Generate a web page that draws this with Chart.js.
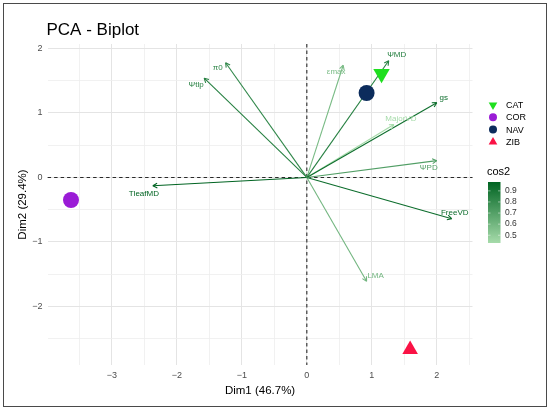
<!DOCTYPE html>
<html>
<head>
<meta charset="utf-8">
<script src="https://cdn.jsdelivr.net/npm/chart.js@4"></script>
<style>
  html, body { margin: 0; padding: 0; background: #fff; }
  #wrap { position: relative; width: 550px; height: 409px; }
  #frame { position: absolute; left: 3px; top: 3px; width: 544px; height: 404px;
           border: 1.5px solid #4a4a4a; box-sizing: border-box; pointer-events: none; }
</style>
</head>
<body>
<div id="wrap">
  <canvas id="biplot" width="550" height="409"></canvas>
  <div id="frame"></div>
</div>
<script>
// variables (arrows)
var varNames = ['ΨMD', 'εmax', 'π0', 'Ψtlp', 'gs', 'MajorVD', 'ΨPD', 'TleafMD', 'FreeVD', 'LMA'];
var varDim1  = [1.26, 0.56, -1.25, -1.58, 2.00, 1.34, 2.00, -2.37, 2.23, 0.92];
var varDim2  = [1.81, 1.74, 1.78, 1.54, 1.16, 0.82, 0.26, -0.13, -0.64, -1.61];
var varCos2  = [0.85, 0.58, 0.82, 0.85, 0.93, 0.43, 0.71, 0.98, 0.94, 0.60];

// individuals (group centres)
var groups  = ['CAT', 'COR', 'NAV', 'ZIB'];
var indDim1 = [1.15, -3.63, 0.92, 1.59];
var indDim2 = [1.61, -0.35, 1.31, -2.67];

var cos2Ticks = [0.9, 0.8, 0.7, 0.6, 0.5];

// styling
var groupColors = ['#1fdf1f', '#9a1bd6', '#0c2c5c', '#fa1245'];
var groupShapes = ['triangle', 'circle', 'circle', 'triangle'];
var groupRot    = [180, 0, 0, 0];
var groupSize   = [9.5, 8, 8, 9];
var labelDx = [8, -7, -8, -8, 7, 7, -8, -9, 3, 9];
var labelDy = [-6, 7, 5, 7, -5, -6, 7, 7.5, -6, -5];

var FONT = '"Liberation Sans", Arial, Helvetica, sans-serif';
var cosMin = 0.43, cosMax = 0.98;
var lowCol = [166, 219, 170], highCol = [0, 100, 34];

function cosColor(v) {
    var t = Math.max(0, Math.min(1, (v - cosMin) / (cosMax - cosMin)));
    var c = lowCol.map(function (l, i) { return Math.round(l + (highCol[i] - l) * t); });
    return 'rgb(' + c.join(',') + ')';
}

function fmtTick(v) {
    if (Math.abs(v - Math.round(v)) > 1e-6) return '';
    v = Math.round(v);
    return v < 0 ? '\u2212' + Math.abs(v) : String(v);
}

var datasets = [];
groups.forEach(function (g, i) {
    datasets.push({
        label: g,
        data: [{ x: indDim1[i], y: indDim2[i] }],
        pointStyle: groupShapes[i],
        rotation: groupRot[i],
        pointRadius: groupSize[i],
        backgroundColor: groupColors[i],
        borderColor: groupColors[i],
        borderWidth: 0,
        order: 0
    });
});
varNames.forEach(function (n, i) {
    datasets.push({
        label: n,
        type: 'line',
        data: [{ x: 0, y: 0 }, { x: varDim1[i], y: varDim2[i] }],
        borderColor: cosColor(varCos2[i]),
        borderWidth: 1.1,
        pointRadius: 0,
        showLine: true,
        fill: false,
        order: 1
    });
});

var decor = {
    id: 'decor',
    beforeDatasetsDraw: function (chart) {
        var ctx = chart.ctx, a = chart.chartArea;
        var x0 = chart.scales.x.getPixelForValue(0);
        var y0 = chart.scales.y.getPixelForValue(0);
        ctx.save();
        ctx.strokeStyle = '#2a2a2a';
        ctx.lineWidth = 1.1;
        ctx.setLineDash([3.5, 3]);
        ctx.beginPath();
        ctx.moveTo(a.left, y0); ctx.lineTo(a.right, y0);
        ctx.moveTo(x0, a.top); ctx.lineTo(x0, a.bottom);
        ctx.stroke();
        ctx.restore();
    },
    afterDatasetsDraw: function (chart) {
        var ctx = chart.ctx;
        var sx = chart.scales.x, sy = chart.scales.y;
        var x0 = sx.getPixelForValue(0), y0 = sy.getPixelForValue(0);
        ctx.save();
        varNames.forEach(function (n, i) {
            var tx = sx.getPixelForValue(varDim1[i]);
            var ty = sy.getPixelForValue(varDim2[i]);
            var ang = Math.atan2(ty - y0, tx - x0);
            var col = cosColor(varCos2[i]);
            ctx.strokeStyle = col;
            ctx.lineWidth = 1.1;
            ctx.beginPath();
            [-0.5, 0.5].forEach(function (d) {
                ctx.moveTo(tx, ty);
                ctx.lineTo(tx - 5 * Math.cos(ang + d), ty - 5 * Math.sin(ang + d));
            });
            ctx.stroke();
            ctx.fillStyle = col;
            ctx.font = '8px ' + FONT;
            ctx.textAlign = 'center';
            ctx.textBaseline = 'middle';
            ctx.fillText(n, tx + labelDx[i], ty + labelDy[i]);
        });
        ctx.restore();
    },
    afterDraw: function (chart) {
        var ctx = chart.ctx;
        ctx.save();
        // title
        ctx.fillStyle = '#000';
        ctx.font = '17px ' + FONT;
        ctx.textAlign = 'left';
        ctx.textBaseline = 'alphabetic';
        ctx.fillText('PCA - Biplot', 46.5, 35);

        // shape legend
        var lx = 493, ly = 105, step = 12.3;
        groups.forEach(function (g, i) {
            var y = ly + i * step;
            ctx.fillStyle = groupColors[i];
            ctx.strokeStyle = groupColors[i];
            Chart.helpers.drawPoint(ctx, {
                pointStyle: groupShapes[i],
                rotation: groupRot[i],
                radius: groupShapes[i] === 'circle' ? 4 : 5,
                borderWidth: 0
            }, lx, y);
            ctx.fillStyle = '#000';
            ctx.font = '9px ' + FONT;
            ctx.textAlign = 'left';
            ctx.textBaseline = 'middle';
            ctx.fillText(g, 506, y + 0.5);
        });

        // cos2 colour bar
        ctx.fillStyle = '#000';
        ctx.font = '11px ' + FONT;
        ctx.textAlign = 'left';
        ctx.textBaseline = 'middle';
        ctx.fillText('cos2', 487, 172);
        var bx = 488, bw = 12.5, bTop = 182, bBot = 243;
        var grad = ctx.createLinearGradient(0, bBot, 0, bTop);
        grad.addColorStop(0, cosColor(cosMin));
        grad.addColorStop(1, cosColor(cosMax));
        ctx.fillStyle = grad;
        ctx.fillRect(bx, bTop, bw, bBot - bTop);
        ctx.font = '8.5px ' + FONT;
        cos2Ticks.forEach(function (v) {
            var y = bBot - (v - cosMin) / (cosMax - cosMin) * (bBot - bTop);
            ctx.strokeStyle = 'rgba(255,255,255,0.8)';
            ctx.lineWidth = 0.6;
            ctx.beginPath();
            ctx.moveTo(bx, y); ctx.lineTo(bx + 2.5, y);
            ctx.moveTo(bx + bw - 2.5, y); ctx.lineTo(bx + bw, y);
            ctx.stroke();
            ctx.fillStyle = '#333';
            ctx.fillText(v.toFixed(1), 505, y);
        });
        ctx.restore();
    }
};

function gridColor(c) {
    return Math.abs(c.tick.value - Math.round(c.tick.value)) < 1e-6 ? '#e4e4e4' : '#eeeeee';
}
function gridWidth(c) {
    return Math.abs(c.tick.value - Math.round(c.tick.value)) < 1e-6 ? 1 : 0.8;
}

var ctx = document.getElementById('biplot').getContext('2d');
var biplot = new Chart(ctx, {
    type: 'scatter',
    data: { datasets: datasets },
    plugins: [decor],
    options: {
        responsive: false,
        animation: false,
        devicePixelRatio: 1,
        layout: { padding: { top: 44, right: 77.5, left: 0, bottom: 0 } },
        plugins: {
            legend: { display: false },
            tooltip: { enabled: false }
        },
        scales: {
            x: {
                type: 'linear',
                min: -3.99,
                max: 2.55,
                afterFit: function (s) { s.height = 44; },
                border: { display: false },
                grid: { color: gridColor, lineWidth: gridWidth, drawTicks: false },
                ticks: {
                    stepSize: 0.5, includeBounds: false, autoSkip: false, maxRotation: 0,
                    padding: 5, color: '#4d4d4d', font: { size: 9, family: FONT },
                    callback: fmtTick
                },
                title: {
                    display: true, text: 'Dim1 (46.7%)', color: '#000',
                    font: { size: 11.5, family: FONT }, padding: { top: 0, bottom: 11 }
                }
            },
            y: {
                type: 'linear',
                min: -2.91,
                max: 2.07,
                afterFit: function (s) { s.width = 47.6; },
                border: { display: false },
                grid: { color: gridColor, lineWidth: gridWidth, drawTicks: false },
                ticks: {
                    stepSize: 0.5, includeBounds: false, autoSkip: false,
                    padding: 5, color: '#4d4d4d', font: { size: 9, family: FONT },
                    callback: fmtTick
                },
                title: {
                    display: true, text: 'Dim2 (29.4%)', color: '#000',
                    font: { size: 11.5, family: FONT }, padding: { top: 16, bottom: 0 }
                }
            }
        }
    }
});
</script>
</body>
</html>
